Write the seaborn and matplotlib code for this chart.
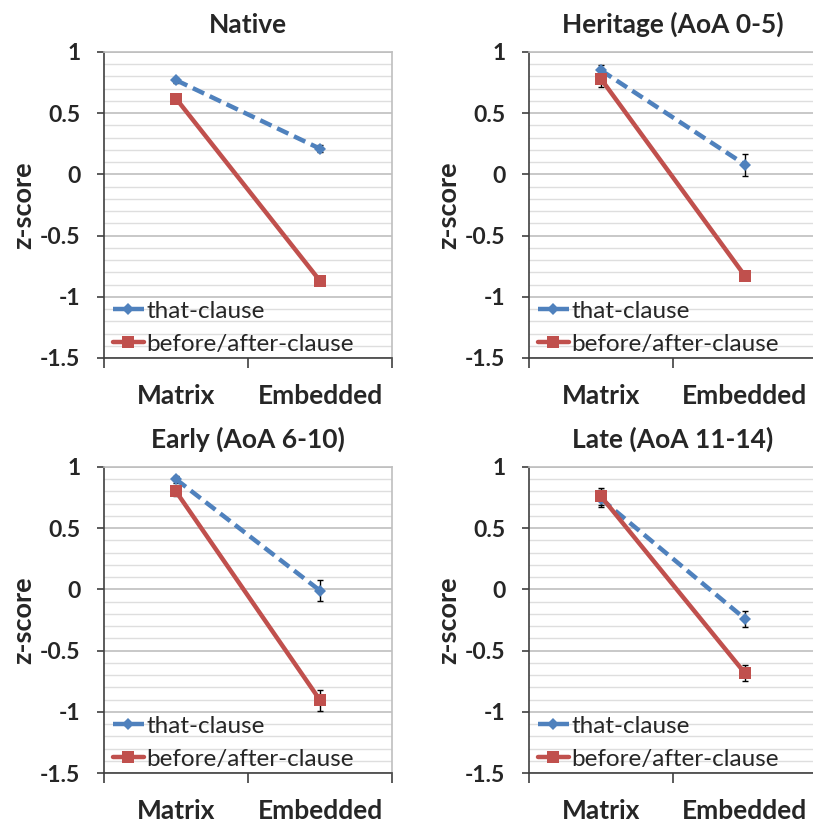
import matplotlib
matplotlib.use("Agg")
import matplotlib.pyplot as plt
import seaborn as sns
import pandas as pd
from matplotlib.ticker import MultipleLocator, FixedLocator, FuncFormatter
from matplotlib.lines import Line2D

# Data -----------------------------------------------------------------
positions = ["Matrix", "Embedded"]
groups = ["Native", "Heritage (AoA 0-5)", "Early (AoA 6-10)", "Late (AoA 11-14)"]

that_clause = [[0.77, 0.21], [0.85, 0.08], [0.90, -0.01], [0.74, -0.24]]
that_clause_err = [[0.02, 0.03], [0.045, 0.09], [0.03, 0.085], [0.07, 0.065]]
before_after = [[0.62, -0.87], [0.78, -0.83], [0.80, -0.905], [0.76, -0.685]]
before_after_err = [[0.02, 0.03], [0.07, 0.03], [0.04, 0.085], [0.07, 0.065]]

y_ticks = [1, 0.5, 0, -0.5, -1, -1.5]

# Style ----------------------------------------------------------------
sns.set_style("white")
plt.rcParams["font.family"] = ["Lato", "DejaVu Sans"]

BLUE = "#4F81BD"
RED = "#C0504D"
AXIS = "#404040"
GRID_MAJOR = "#BFBFBF"
GRID_MINOR = "#DEDEDE"

W, H = 813, 824
fig = plt.figure(figsize=(W / 100, H / 100), dpi=100)

# axes boxes in pixels: left, top, width, height
boxes = [(104, 52, 288, 306), (529, 52, 288, 306),
         (104, 467, 288, 306), (529, 467, 288, 306)]

that_style = dict(color=BLUE, lw=3.2, marker="D", markersize=6.5, mew=0,
                  linestyle=(0, (2.8, 1.4)), dash_capstyle="butt")
ba_style = dict(color=RED, lw=3.2, marker="s", markersize=9, mew=0,
                linestyle="-")

for g, (name, (lx, ty, bw, bh)) in enumerate(zip(groups, boxes)):
    ax = fig.add_axes([lx / W, 1 - (ty + bh) / H, bw / W, bh / H])

    df = pd.DataFrame({
        "position": positions * 2,
        "score": that_clause[g] + before_after[g],
        "err": that_clause_err[g] + before_after_err[g],
        "clause": ["that-clause"] * 2 + ["before/after-clause"] * 2,
    })
    d_that = df[df["clause"] == "that-clause"]
    d_ba = df[df["clause"] == "before/after-clause"]

    for d in (d_that, d_ba):
        ax.errorbar(d["position"], d["score"], yerr=d["err"], fmt="none",
                    ecolor="black", elinewidth=1, capsize=2.5, capthick=1,
                    zorder=2.5)

    sns.lineplot(data=d_that, x="position", y="score", ax=ax, zorder=3,
                 legend=False, **that_style)
    sns.lineplot(data=d_ba, x="position", y="score", ax=ax, zorder=4,
                 legend=False, **ba_style)

    # axes limits and ticks
    ax.set_xlim(-0.5, 1.5)
    ax.set_ylim(-1.5, 1.0)
    ax.xaxis.set_minor_locator(FixedLocator([-0.5, 0.5, 1.5]))
    ax.yaxis.set_major_locator(FixedLocator(y_ticks))
    ax.yaxis.set_minor_locator(MultipleLocator(0.1))
    ax.yaxis.set_major_formatter(FuncFormatter(lambda v, p: f"{v:g}".replace("\u2212", "-")))

    ax.tick_params(axis="x", which="major", length=0, pad=19,
                   labelsize=19)
    ax.tick_params(axis="x", which="minor", length=7, width=1.2,
                   color=AXIS, direction="out", bottom=True)
    ax.tick_params(axis="y", which="major", length=5, width=1.2,
                   color=AXIS, direction="out", left=True, pad=12,
                   labelsize=16.5)
    ax.tick_params(axis="y", which="minor", length=0)
    for lab in ax.get_xticklabels() + ax.get_yticklabels():
        lab.set_fontweight("bold")

    # gridlines
    ax.grid(axis="y", which="major", color=GRID_MAJOR, lw=1.2, zorder=0)
    ax.grid(axis="y", which="minor", color=GRID_MINOR, lw=1.0, zorder=0)
    ax.grid(axis="x", which="both", visible=False)
    ax.set_axisbelow(True)

    for side in ("left", "bottom"):
        ax.spines[side].set_color(AXIS)
        ax.spines[side].set_linewidth(1.2)
    for side in ("right", "top"):
        ax.spines[side].set_color(GRID_MAJOR)
        ax.spines[side].set_linewidth(1.2)

    ax.set_xlabel("")
    ax.set_ylabel("z-score", fontsize=19.5, fontweight="bold")
    ax.yaxis.set_label_coords(-0.24, 0.5)
    ax.set_title(name, fontsize=19, fontweight="bold", pad=14)

    handles = [
        Line2D([], [], **that_style),
        Line2D([], [], **ba_style),
    ]
    ax.legend(handles, ["that-clause", "before/after-clause"],
              loc="lower left", bbox_to_anchor=(0.03, 0.01),
              frameon=False, fontsize=17.5, handlelength=1.3,
              handletextpad=0.1, labelspacing=0.5, borderpad=0,
              borderaxespad=0, numpoints=1)

fig.savefig("out.png", dpi=100)
